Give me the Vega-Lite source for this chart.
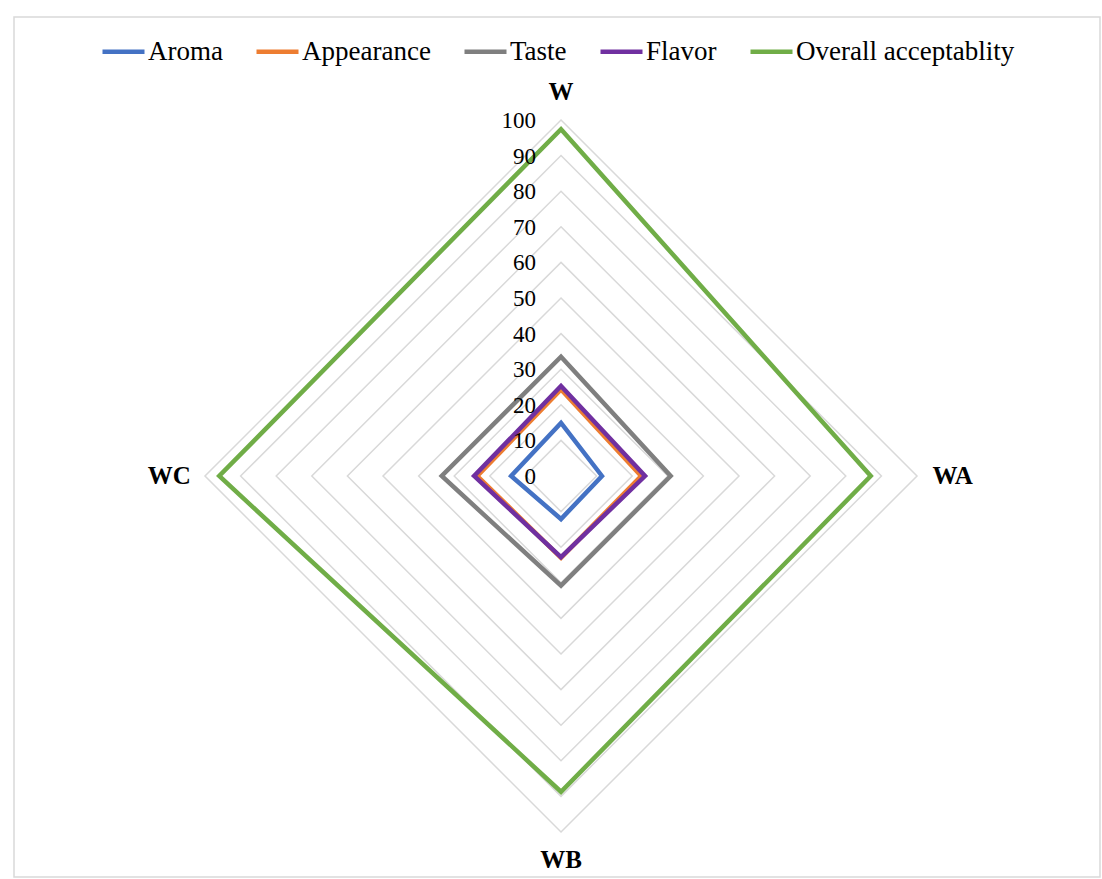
{
  "$schema": "https://vega.github.io/schema/vega-lite/v6.json",
  "width": 1102,
  "height": 879,
  "autosize": {"type": "fit", "contains": "padding"},
  "padding": {"left": 14, "top": 17, "right": 2, "bottom": 2},
  "background": "white",
  "config": {"view": {"stroke": "#d9d9d9", "strokeWidth": 1.5}, "font": "Liberation Serif"},
  "datasets": {
    "scores": [
      {"series": "Aroma", "axis": "W", "value": 14.9},
      {"series": "Aroma", "axis": "WA", "value": 11.5},
      {"series": "Aroma", "axis": "WB", "value": 12.1},
      {"series": "Aroma", "axis": "WC", "value": 14.0},
      {"series": "Appearance", "axis": "W", "value": 24.3},
      {"series": "Appearance", "axis": "WA", "value": 22.5},
      {"series": "Appearance", "axis": "WB", "value": 23.0},
      {"series": "Appearance", "axis": "WC", "value": 23.5},
      {"series": "Taste", "axis": "W", "value": 33.5},
      {"series": "Taste", "axis": "WA", "value": 30.8},
      {"series": "Taste", "axis": "WB", "value": 30.8},
      {"series": "Taste", "axis": "WC", "value": 33.5},
      {"series": "Flavor", "axis": "W", "value": 25.3},
      {"series": "Flavor", "axis": "WA", "value": 23.6},
      {"series": "Flavor", "axis": "WB", "value": 22.8},
      {"series": "Flavor", "axis": "WC", "value": 24.4},
      {"series": "Overall acceptablity", "axis": "W", "value": 97.4},
      {"series": "Overall acceptablity", "axis": "WA", "value": 87.0},
      {"series": "Overall acceptablity", "axis": "WB", "value": 88.7},
      {"series": "Overall acceptablity", "axis": "WC", "value": 96.0}
    ],
    "rings": [
      {"ring": 10, "axis": ["W", "WA", "WB", "WC"]},
      {"ring": 20, "axis": ["W", "WA", "WB", "WC"]},
      {"ring": 30, "axis": ["W", "WA", "WB", "WC"]},
      {"ring": 40, "axis": ["W", "WA", "WB", "WC"]},
      {"ring": 50, "axis": ["W", "WA", "WB", "WC"]},
      {"ring": 60, "axis": ["W", "WA", "WB", "WC"]},
      {"ring": 70, "axis": ["W", "WA", "WB", "WC"]},
      {"ring": 80, "axis": ["W", "WA", "WB", "WC"]},
      {"ring": 90, "axis": ["W", "WA", "WB", "WC"]},
      {"ring": 100, "axis": ["W", "WA", "WB", "WC"]}
    ],
    "ticks": [
      {"tick": 0}, {"tick": 10}, {"tick": 20}, {"tick": 30}, {"tick": 40}, {"tick": 50},
      {"tick": 60}, {"tick": 70}, {"tick": 80}, {"tick": 90}, {"tick": 100}
    ],
    "axes": [{"axis": "W"}, {"axis": "WA"}, {"axis": "WB"}, {"axis": "WC"}]
  },
  "layer": [
    {
      "data": {"name": "rings"},
      "transform": [
        {"flatten": ["axis"]},
        {"calculate": "indexof(['W','WA','WB','WC'], datum.axis)", "as": "idx"},
        {"calculate": "datum.ring * sin(datum.idx * PI / 2)", "as": "px"},
        {"calculate": "datum.ring * cos(datum.idx * PI / 2)", "as": "py"}
      ],
      "mark": {"type": "line", "interpolate": "linear-closed", "color": "#d9d9d9", "strokeWidth": 1.5},
      "encoding": {
        "x": {"field": "px", "type": "quantitative", "scale": {"domain": [-153.65, 151.4], "nice": false, "zero": false}, "axis": null},
        "y": {"field": "py", "type": "quantitative", "scale": {"domain": [-112.64, 128.93], "nice": false, "zero": false}, "axis": null},
        "detail": {"field": "ring", "type": "nominal"},
        "order": {"field": "idx", "type": "quantitative"}
      }
    },
    {
      "data": {"name": "scores"},
      "transform": [
        {"calculate": "indexof(['W','WA','WB','WC'], datum.axis)", "as": "idx"},
        {"calculate": "datum.value * sin(datum.idx * PI / 2)", "as": "px"},
        {"calculate": "datum.value * cos(datum.idx * PI / 2)", "as": "py"}
      ],
      "mark": {"type": "line", "interpolate": "linear-closed", "strokeWidth": 4.5, "strokeJoin": "miter"},
      "encoding": {
        "x": {"field": "px", "type": "quantitative", "scale": {"domain": [-153.65, 151.4], "nice": false, "zero": false}, "axis": null},
        "y": {"field": "py", "type": "quantitative", "scale": {"domain": [-112.64, 128.93], "nice": false, "zero": false}, "axis": null},
        "order": {"field": "idx", "type": "quantitative"},
        "color": {
          "field": "series",
          "type": "nominal",
          "scale": {
            "domain": ["Aroma", "Appearance", "Taste", "Flavor", "Overall acceptablity"],
            "range": ["#4472C4", "#ED7D31", "#7F7F7F", "#7030A0", "#70AD47"]
          },
          "legend": {
            "orient": "none",
            "direction": "horizontal",
            "columns": 5,
            "legendX": 86,
            "legendY": 11,
            "title": null,
            "symbolType": "stroke",
            "symbolSize": 1764,
            "symbolStrokeWidth": 4.5,
            "labelFontSize": 27,
            "labelFont": "Liberation Serif",
            "labelColor": "black",
            "labelOffset": 1,
            "columnPadding": 24,
            "labelLimit": 400
          }
        }
      }
    },
    {
      "data": {"name": "ticks"},
      "mark": {"type": "text", "align": "right", "baseline": "middle", "dx": -25, "dy": 1, "fontSize": 23, "font": "Liberation Serif", "color": "black"},
      "encoding": {
        "x": {"datum": 0, "type": "quantitative"},
        "y": {"field": "tick", "type": "quantitative"},
        "text": {"field": "tick", "type": "quantitative"}
      }
    },
    {
      "data": {"name": "axes"},
      "transform": [
        {"calculate": "indexof(['W','WA','WB','WC'], datum.axis)", "as": "idx"},
        {"calculate": "110 * sin(datum.idx * PI / 2)", "as": "lx"},
        {"calculate": "108 * cos(datum.idx * PI / 2)", "as": "ly"}
      ],
      "mark": {"type": "text", "align": "center", "baseline": "middle", "fontSize": 25, "fontWeight": "bold", "font": "Liberation Serif", "color": "black"},
      "encoding": {
        "x": {"field": "lx", "type": "quantitative"},
        "y": {"field": "ly", "type": "quantitative"},
        "text": {"field": "axis", "type": "nominal"}
      }
    }
  ]
}
